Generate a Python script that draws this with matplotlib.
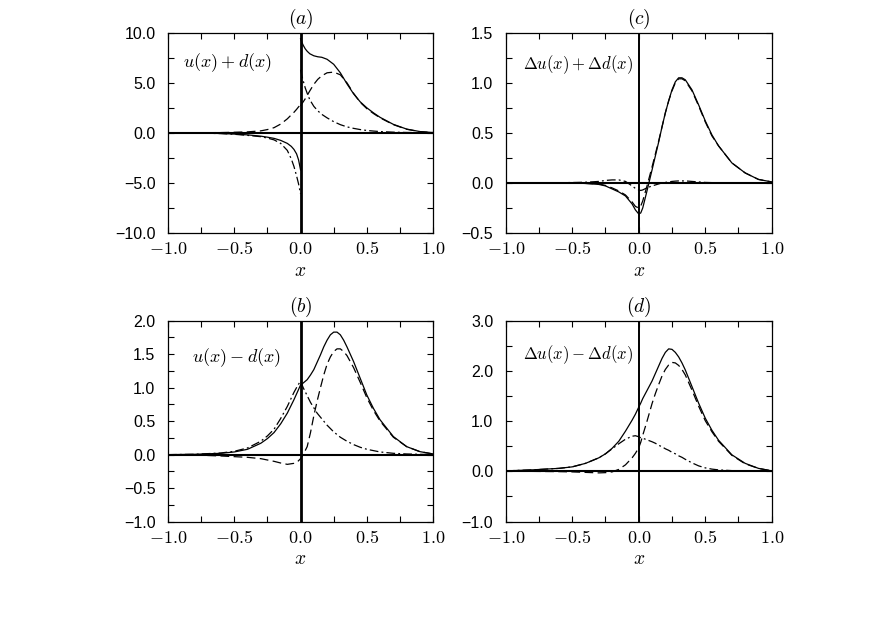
import numpy as np
import matplotlib
matplotlib.use("Agg")
import matplotlib.pyplot as plt
from matplotlib.ticker import MultipleLocator, FuncFormatter

plt.rcParams['mathtext.fontset'] = 'cm'

# ---- panel (a): u(x)+d(x), jumps at x=0 so left and right halves are kept apart
xa_neg = [-1.0, -0.8, -0.6, -0.5, -0.4, -0.3, -0.25, -0.2, -0.15, -0.1, -0.07, -0.05, -0.03, -0.015, 0.0]
a_solid_neg = [0, -0.02, -0.06, -0.12, -0.2, -0.33, -0.43, -0.55, -0.75, -1.05, -1.35, -1.65, -2.1, -2.7, -3.7]
a_dash_neg = [0, 0.01, 0.03, 0.06, 0.1, 0.2, 0.33, 0.52, 0.88, 1.4, 1.8, 2.05, 2.35, 2.6, 2.8]
a_dashdot_neg = [0, -0.02, -0.07, -0.14, -0.25, -0.38, -0.52, -0.7, -1.05, -1.75, -2.6, -3.35, -4.3, -5.1, -6.1]

xa_pos = [0.0, 0.01, 0.02, 0.035, 0.05, 0.07, 0.1, 0.13, 0.16, 0.2, 0.25,
          0.3, 0.35, 0.4, 0.45, 0.5, 0.55, 0.6, 0.7, 0.8, 0.9, 1.0]
a_solid_pos = [9.4, 9.05, 8.75, 8.4, 8.15, 7.9, 7.7, 7.6, 7.55, 7.35, 6.85,
               6.0, 4.9, 3.9, 3.1, 2.5, 2.0, 1.55, 0.85, 0.38, 0.13, 0.03]
a_dash_pos = [2.7, 2.9, 3.1, 3.4, 3.75, 4.2, 4.85, 5.35, 5.7, 6.0, 6.07,
              5.8, 5.0, 3.95, 3.05, 2.42, 1.93, 1.5, 0.82, 0.36, 0.12, 0.03]
a_dashdot_pos = [6.3, 5.7, 5.2, 4.5, 3.95, 3.3, 2.65, 2.2, 1.85, 1.5, 1.12,
                 0.82, 0.6, 0.45, 0.33, 0.24, 0.18, 0.13, 0.07, 0.04, 0.02, 0.01]

# ---- panel (b): u(x)-d(x)
xb = [-1.0, -0.8, -0.6, -0.5, -0.4, -0.3, -0.25, -0.2, -0.15, -0.1, -0.05, -0.025,
      0.0, 0.02, 0.05, 0.075, 0.1, 0.125, 0.15, 0.175, 0.2, 0.225, 0.25, 0.275,
      0.3, 0.325, 0.35, 0.4, 0.45, 0.5, 0.55, 0.6, 0.7, 0.8, 0.9, 1.0]
b_solid = [0.0, 0.005, 0.02, 0.04, 0.08, 0.17, 0.24, 0.33, 0.46, 0.62, 0.82, 0.93,
           1.04, 1.07, 1.12, 1.19, 1.27, 1.38, 1.49, 1.61, 1.71, 1.79, 1.83, 1.83,
           1.79, 1.71, 1.61, 1.39, 1.14, 0.89, 0.69, 0.52, 0.27, 0.12, 0.045, 0.01]
b_dash = [0.0, -0.005, -0.02, -0.03, -0.04, -0.06, -0.08, -0.1, -0.125, -0.145, -0.13, -0.11,
          -0.06, 0.0, 0.12, 0.33, 0.58, 0.8, 1.0, 1.19, 1.35, 1.46, 1.54, 1.58,
          1.58, 1.54, 1.48, 1.3, 1.08, 0.85, 0.66, 0.5, 0.26, 0.12, 0.045, 0.01]
b_dashdot = [0.0, 0.005, 0.025, 0.05, 0.1, 0.2, 0.28, 0.38, 0.54, 0.72, 0.93, 1.02,
             1.1, 1.0, 0.88, 0.78, 0.7, 0.62, 0.56, 0.5, 0.44, 0.39, 0.34, 0.3,
             0.26, 0.23, 0.2, 0.15, 0.11, 0.08, 0.06, 0.04, 0.02, 0.01, 0.005, 0.0]

# ---- panels (c) and (d): helicity distributions
xcd = [-1.0, -0.8, -0.6, -0.5, -0.4, -0.3, -0.25, -0.2, -0.15, -0.1, -0.05, -0.025,
       0.0, 0.015, 0.03, 0.06, 0.1, 0.125, 0.15, 0.175, 0.2, 0.225, 0.25, 0.275,
       0.3, 0.325, 0.35, 0.4, 0.45, 0.5, 0.55, 0.6, 0.7, 0.8, 0.9, 1.0]
c_solid = [0, 0, 0, -0.002, -0.005, -0.015, -0.03, -0.06, -0.09, -0.13, -0.21, -0.27,
           -0.31, -0.3, -0.25, -0.09, 0.13, 0.27, 0.41, 0.56, 0.7, 0.82, 0.93, 1.01,
           1.05, 1.05, 1.03, 0.93, 0.78, 0.62, 0.48, 0.37, 0.2, 0.1, 0.035, 0.01]
c_dash = [0, 0, 0, -0.002, -0.005, -0.01, -0.025, -0.05, -0.08, -0.12, -0.19, -0.235,
          -0.25, -0.23, -0.18, -0.04, 0.16, 0.29, 0.42, 0.56, 0.7, 0.82, 0.92, 1.0,
          1.04, 1.04, 1.02, 0.92, 0.77, 0.61, 0.47, 0.37, 0.2, 0.1, 0.035, 0.01]
c_dashdot = [0, 0, 0.002, 0.004, 0.007, 0.015, 0.025, 0.03, 0.03, 0.015, -0.03, -0.055,
             -0.07, -0.075, -0.07, -0.05, -0.03, -0.02, -0.01, 0.0, 0.005, 0.01, 0.015, 0.018,
             0.02, 0.02, 0.02, 0.015, 0.01, 0.005, 0.003, 0.002, 0, 0, 0, 0]

d_solid = [0.01, 0.03, 0.06, 0.09, 0.16, 0.27, 0.35, 0.46, 0.6, 0.8, 1.02, 1.14,
           1.28, 1.36, 1.45, 1.6, 1.8, 1.95, 2.1, 2.25, 2.37, 2.44, 2.43, 2.37,
           2.28, 2.16, 2.02, 1.69, 1.36, 1.06, 0.82, 0.62, 0.33, 0.16, 0.06, 0.01]
d_dash = [0, 0, -0.005, -0.01, -0.02, -0.03, -0.025, -0.01, 0.04, 0.13, 0.27, 0.36,
          0.47, 0.58, 0.72, 0.98, 1.35, 1.55, 1.73, 1.9, 2.03, 2.12, 2.17, 2.16,
          2.11, 2.03, 1.92, 1.62, 1.3, 1.01, 0.79, 0.6, 0.32, 0.15, 0.06, 0.01]
d_dashdot = [0.01, 0.03, 0.06, 0.09, 0.16, 0.27, 0.35, 0.45, 0.55, 0.64, 0.7, 0.71,
             0.69, 0.67, 0.66, 0.63, 0.59, 0.56, 0.52, 0.49, 0.45, 0.42, 0.38, 0.35,
             0.31, 0.28, 0.24, 0.17, 0.11, 0.07, 0.045, 0.03, 0.015, 0.01, 0.005, 0.0]

DASH = (0, (7, 3.5))
DASHDOT = (0, (7, 2.5, 1.5, 2.5))
LW = 0.9


def xfmt(v, pos):
    return r"$%.1f$" % v


def yfmt(v, pos):
    return ("%.1f" % v).replace("-", "\u2212")


def setup(ax, ylim, ymaj, title, label, lx, ly, lsize, vlw):
    ax.set_xlim(-1, 1)
    ax.set_ylim(*ylim)
    ax.axhline(0, color='k', lw=1.5, zorder=1)
    ax.axvline(0, color='k', lw=vlw, zorder=1)
    ax.xaxis.set_major_locator(MultipleLocator(0.5))
    ax.xaxis.set_minor_locator(MultipleLocator(0.25))
    ax.yaxis.set_major_locator(MultipleLocator(ymaj))
    ax.yaxis.set_minor_locator(MultipleLocator(ymaj / 2))
    ax.tick_params(which='both', direction='in', top=True, right=True, length=4, width=0.8)
    ax.tick_params(axis='x', pad=5)
    ax.tick_params(axis='y', pad=9)
    ax.xaxis.set_major_formatter(FuncFormatter(xfmt))
    ax.yaxis.set_major_formatter(FuncFormatter(yfmt))
    for t in ax.get_xticklabels():
        t.set_fontsize(13)
    for t in ax.get_yticklabels():
        t.set_fontsize(11.5)
        t.set_fontfamily('Liberation Sans')
    ax.set_xlabel(r"$x$", fontsize=14, labelpad=2)
    ax.set_title(title, fontsize=14, pad=6)
    ax.text(lx, ly, label, transform=ax.transAxes, fontsize=lsize, va='center', ha='left')
    for s in ax.spines.values():
        s.set_linewidth(0.9)


fig = plt.figure(figsize=(8.75, 6.18), dpi=100)
ax_a = fig.add_axes([0.192, 0.623, 0.303, 0.324])
ax_c = fig.add_axes([0.578, 0.623, 0.304, 0.324])
ax_b = fig.add_axes([0.192, 0.156, 0.303, 0.325])
ax_d = fig.add_axes([0.578, 0.156, 0.304, 0.325])

# (a)
for xs, s, d, dd in [(xa_neg, a_solid_neg, a_dash_neg, a_dashdot_neg),
                     (xa_pos, a_solid_pos, a_dash_pos, a_dashdot_pos)]:
    ax_a.plot(xs, s, color='k', lw=LW)
    ax_a.plot(xs, d, color='k', lw=LW, linestyle=DASH)
    ax_a.plot(xs, dd, color='k', lw=LW, linestyle=DASHDOT)
setup(ax_a, (-10, 10), 5, r"$(a)$", r"$u(x)+d(x)$", 0.055, 0.85, 13, 2.0)

# (b)
ax_b.plot(xb, b_solid, color='k', lw=LW)
ax_b.plot(xb, b_dash, color='k', lw=LW, linestyle=DASH)
ax_b.plot(xb, b_dashdot, color='k', lw=LW, linestyle=DASHDOT)
setup(ax_b, (-1, 2), 0.5, r"$(b)$", r"$u(x)-d(x)$", 0.092, 0.815, 13, 2.0)

# (c)
ax_c.plot(xcd, c_solid, color='k', lw=LW)
ax_c.plot(xcd, c_dash, color='k', lw=LW, linestyle=DASH)
ax_c.plot(xcd, c_dashdot, color='k', lw=LW, linestyle=DASHDOT)
setup(ax_c, (-0.5, 1.5), 0.5, r"$(c)$", r"$\Delta u(x)+\Delta d(x)$", 0.063, 0.84, 12, 1.4)

# (d)
ax_d.plot(xcd, d_solid, color='k', lw=LW)
ax_d.plot(xcd, d_dash, color='k', lw=LW, linestyle=DASH)
ax_d.plot(xcd, d_dashdot, color='k', lw=LW, linestyle=DASHDOT)
setup(ax_d, (-1, 3), 1.0, r"$(d)$", r"$\Delta u(x)-\Delta d(x)$", 0.063, 0.83, 12, 1.4)

fig.savefig("out.png", dpi=100)
